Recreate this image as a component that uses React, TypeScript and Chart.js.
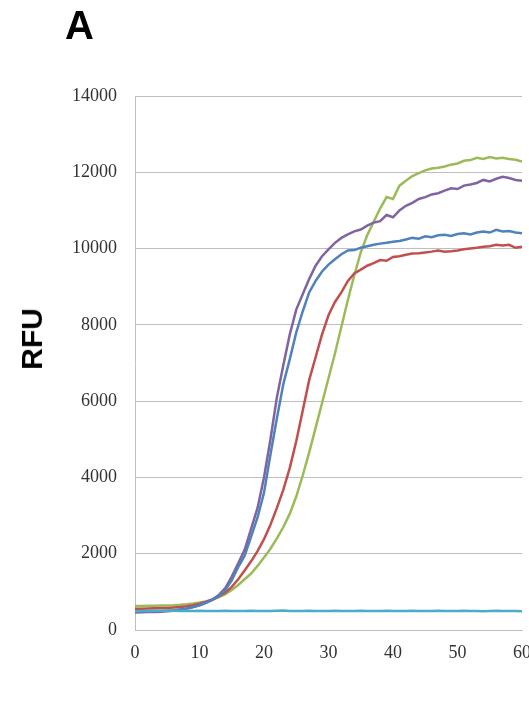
import React, { useEffect, useRef } from "react";
import { Chart, registerables } from "chart.js";

Chart.register(...registerables);

// Cycle numbers (x axis)
const cycles: number[] = Array.from({ length: 61 }, (_, i) => i);

// Fluorescence readings (RFU) per cycle for each well
const purpleRFU: number[] = [
  460, 465, 470, 475, 480, 490, 505, 530, 560, 600,
  650, 720, 800, 920, 1100, 1400, 1750, 2100, 2650, 3200,
  4000, 5000, 6100, 6950, 7750, 8400, 8800, 9200, 9550, 9800,
  9980, 10150, 10280, 10370, 10450, 10500, 10600, 10680, 10720, 10880,
  10820, 11000, 11120, 11200, 11300, 11350, 11420, 11450, 11520, 11580,
  11560, 11650, 11680, 11720, 11800, 11760, 11830, 11880, 11850, 11800,
  11780,
];

const blueRFU: number[] = [
  490, 490, 495, 495, 500, 505, 515, 540, 565, 600,
  650, 715, 790, 900, 1050, 1300, 1650, 1950, 2450, 2950,
  3600, 4600, 5550, 6450, 7100, 7800, 8350, 8850, 9150, 9400,
  9580, 9720, 9850, 9950, 9960, 10020, 10060, 10100, 10130, 10150,
  10180, 10200, 10240, 10280, 10260, 10320, 10300, 10350, 10360, 10330,
  10380, 10400, 10370, 10420, 10450, 10420, 10490, 10450, 10460, 10420,
  10400,
];

const redRFU: number[] = [
  560, 560, 565, 570, 575, 580, 590, 600, 620, 650,
  690, 740, 800, 880, 980, 1130, 1330, 1560, 1800, 2070,
  2380, 2760, 3200, 3680, 4250, 4950, 5750, 6550, 7150, 7750,
  8250, 8600, 8850, 9150, 9350, 9450, 9550, 9620, 9700, 9680,
  9780, 9800, 9840, 9870, 9880, 9900, 9920, 9950, 9920, 9930,
  9950, 9980, 10000, 10020, 10050, 10060, 10100, 10080, 10100, 10020,
  10050,
];

const greenRFU: number[] = [
  630, 630, 635, 635, 640, 645, 650, 660, 675, 695,
  720, 750, 790, 860, 940, 1050, 1180, 1330, 1480, 1680,
  1900, 2130, 2400, 2700, 3050, 3500, 4050, 4650, 5300, 5950,
  6600, 7250, 7950, 8650, 9300, 9900, 10350, 10700, 11050, 11350,
  11300, 11650, 11780, 11900, 11980, 12050, 12100, 12120, 12150, 12200,
  12230, 12300, 12320, 12380, 12350, 12400, 12360, 12380, 12350, 12330,
  12280,
];

const cyanRFU: number[] = [
  490, 495, 500, 505, 505, 510, 505, 500, 505, 500,
  505, 500, 495, 500, 505, 500, 495, 500, 505, 500,
  495, 500, 505, 510, 500, 495, 500, 505, 500, 495,
  500, 505, 500, 495, 500, 505, 500, 495, 500, 505,
  500, 495, 500, 505, 500, 495, 500, 505, 500, 495,
  500, 505, 500, 495, 490, 500, 505, 500, 495, 500,
  490,
];

const yTicks: number[] = [0, 2000, 4000, 6000, 8000, 10000, 12000, 14000];
const xTicks: number[] = [0, 10, 20, 30, 40, 50, 60];

const toPoints = (ys: number[]) => cycles.map((x, i) => ({ x, y: ys[i] }));

export default function App() {
  const canvasRef = useRef<HTMLCanvasElement | null>(null);

  useEffect(() => {
    const canvas = canvasRef.current;
    if (!canvas) return;
    const line = (label: string, data: number[], color: string, order: number) => ({
      label,
      data: toPoints(data),
      borderColor: color,
      backgroundColor: color,
      borderWidth: 2.5,
      pointRadius: 0,
      tension: 0,
      fill: false,
      order,
    });
    const chart = new Chart(canvas, {
      type: "line",
      data: {
        datasets: [
          line("purple", purpleRFU, "#8064A2", 3),
          line("red", redRFU, "#C0504D", 4),
          line("green", greenRFU, "#9BBB59", 5),
          line("blue", blueRFU, "#4F81BD", 2),
          line("cyan", cyanRFU, "#4BACC6", 1),
        ],
      },
      options: {
        animation: false,
        responsive: false,
        maintainAspectRatio: false,
        layout: { padding: { left: 0, top: 96, right: 38, bottom: 0 } },
        plugins: {
          legend: { display: false },
          tooltip: { enabled: false },
        },
        scales: {
          x: {
            type: "linear",
            min: 0,
            max: 60,
            afterFit: (scale: any) => {
              scale.height = 95;
            },
            afterBuildTicks: (scale: any) => {
              scale.ticks = xTicks.map((v) => ({ value: v }));
            },
            grid: { display: false, drawTicks: false },
            border: { display: true, color: "#bfbfbf", width: 1 },
            ticks: {
              padding: 12,
              color: "#333333",
              maxRotation: 0,
              autoSkip: false,
              font: { family: "'Liberation Serif', 'Times New Roman', serif", size: 18 },
            },
          },
          y: {
            min: 0,
            max: 14000,
            afterFit: (scale: any) => {
              scale.width = 135;
            },
            afterBuildTicks: (scale: any) => {
              scale.ticks = yTicks.map((v) => ({ value: v }));
            },
            grid: { color: "#bfbfbf", lineWidth: 1, drawTicks: false },
            border: { display: true, color: "#bfbfbf", width: 1 },
            ticks: {
              padding: 18,
              color: "#333333",
              font: { family: "'Liberation Serif', 'Times New Roman', serif", size: 18 },
              callback: (v: any) => String(v),
            },
          },
        },
      },
    });
    return () => chart.destroy();
  }, []);

  return (
    <div
      style={{
        position: "absolute",
        left: 0,
        top: 0,
        width: 529,
        height: 725,
        overflow: "hidden",
        background: "#ffffff",
      }}
    >
      <canvas
        ref={canvasRef}
        width={560}
        height={725}
        style={{ position: "absolute", left: 0, top: 0, width: 560, height: 725 }}
      />
      <div
        style={{
          position: "absolute",
          left: 65,
          top: 1,
          fontFamily: "'Liberation Sans', Arial, sans-serif",
          fontWeight: "bold",
          fontSize: 40,
          lineHeight: "48px",
          color: "#000",
        }}
      >
        A
      </div>
      <div
        style={{
          position: "absolute",
          left: 32,
          top: 339,
          transform: "translate(-50%, -50%) rotate(-90deg)",
          fontFamily: "'Liberation Sans', Arial, sans-serif",
          fontWeight: "bold",
          fontSize: 30,
          lineHeight: "34px",
          color: "#000",
          whiteSpace: "nowrap",
        }}
      >
        RFU
      </div>
    </div>
  );
}
